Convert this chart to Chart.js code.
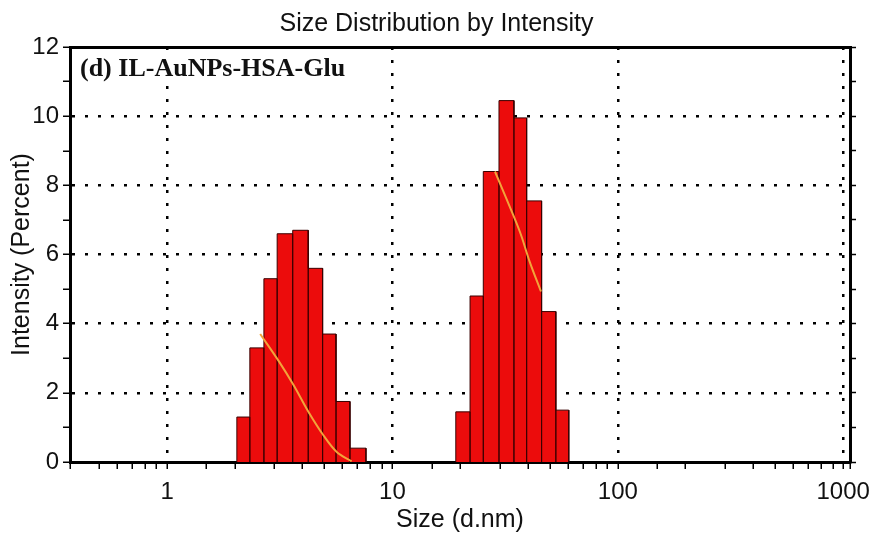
<!DOCTYPE html>
<html><head><meta charset="utf-8">
<script src="https://cdn.jsdelivr.net/npm/chart.js@4/dist/chart.umd.min.js"></script>
<style>html,body{margin:0;padding:0;background:#fff}#wrap{width:873px;height:536px}</style>
</head><body><div id="wrap"><canvas id="c" width="873" height="536"></canvas></div>
<script>
// ---- text ----
const chartTitle = 'Size Distribution by Intensity';
const sampleLabel = '(d) IL-AuNPs-HSA-Glu';
const xAxisTitle = 'Size (d.nm)';
const yAxisTitle = 'Intensity (Percent)';
const xTickLabels = [1, 10, 100, 1000];
const yTickLabels = [0, 2, 4, 6, 8, 10, 12];

// ---- histogram peak 1 (bin edges in d.nm, intensity in %) ----
const binEdgesA = [2.04, 2.33, 2.69, 3.08, 3.61, 4.23, 4.90, 5.62, 6.48, 7.63];
const intensityA = [1.3, 3.3, 5.3, 6.6, 6.7, 5.6, 3.7, 1.75, 0.4];
// ---- histogram peak 2 ----
const binEdgesB = [19.1, 22.1, 25.3, 29.7, 34.6, 39.4, 45.9, 53.1, 60.6];
const intensityB = [1.45, 4.8, 8.4, 10.45, 9.95, 7.55, 4.35, 1.5];
// ---- orange curves ----
const curveSizeA = [2.59, 3.12, 3.63, 4.23, 4.93, 5.66, 6.59];
const curveIntensityA = [3.7, 2.93, 2.24, 1.46, 0.78, 0.29, 0.02];
const curveSizeB = [28.5, 32.1, 36.8, 40.7, 45.6];
const curveIntensityB = [8.4, 7.6, 6.65, 5.78, 4.93];

const xMin = 0.371, xMax = 1072, yMin = 0, yMax = 12;

function histogramPoints(edges, vals) {
  const pts = [];
  vals.forEach((v, i) => {
    pts.push({x: edges[i], y: 0}, {x: edges[i], y: v}, {x: edges[i + 1], y: v}, {x: edges[i + 1], y: 0});
  });
  return pts;
}
const zip = (xs, ys) => xs.map((x, i) => ({x, y: ys[i]}));

Chart.defaults.font.family = '"Liberation Sans", Arial, sans-serif';
Chart.defaults.color = '#111';

const isDecade = v => xTickLabels.some(t => Math.abs(t - v) < 1e-9 * t);
const dotted = [3, 10];

const labelPlugin = {
  id: 'sampleLabel',
  afterDatasetsDraw(chart) {
    const {ctx, chartArea} = chart;
    ctx.save();
    ctx.font = 'bold 26px "Liberation Serif", "Times New Roman", serif';
    const x = chartArea.left + 10, y = chartArea.top + 29;
    const w = ctx.measureText(sampleLabel).width;
    ctx.fillStyle = '#fff';
    ctx.fillRect(x - 4, y - 22, w + 8, 29);
    ctx.fillStyle = '#111';
    ctx.textBaseline = 'alphabetic';
    ctx.textAlign = 'left';
    ctx.fillText(sampleLabel, x, y);
    ctx.restore();
  }
};

const barStyle = {
  type: 'line', fill: 'origin', backgroundColor: '#ec0c0c', borderColor: '#3a0000',
  borderWidth: 1, pointRadius: 0, tension: 0, order: 2
};
const curveStyle = {
  type: 'line', fill: false, borderColor: '#f2a33a', borderWidth: 2,
  pointRadius: 0, tension: 0.35, order: 0
};

new Chart(document.getElementById('c'), {
  type: 'line',
  data: {
    datasets: [
      Object.assign({label: 'peak 1', data: histogramPoints(binEdgesA, intensityA)}, barStyle),
      Object.assign({label: 'peak 2', data: histogramPoints(binEdgesB, intensityB)}, barStyle),
      Object.assign({label: 'curve 1', data: zip(curveSizeA, curveIntensityA)}, curveStyle),
      Object.assign({label: 'curve 2', data: zip(curveSizeB, curveIntensityB)}, curveStyle)
    ]
  },
  options: {
    responsive: false,
    animation: false,
    devicePixelRatio: 1,
    layout: {padding: 0},
    plugins: {
      legend: {display: false},
      tooltip: {enabled: false},
      title: {
        display: true, text: chartTitle, color: '#111',
        font: {size: 25, weight: 'normal'}, padding: {top: 9, bottom: 8}
      }
    },
    scales: {
      x: {
        type: 'logarithmic', position: 'bottom', min: xMin, max: xMax,
        afterFit: s => { s.height = 74; },
        border: {display: true, color: '#000', width: 3, dash: dotted},
        grid: {
          color: c => (c.tick && isDecade(c.tick.value)) ? '#000' : 'rgba(0,0,0,0)',
          lineWidth: 2.5, tickColor: '#000', tickWidth: 1.5, tickLength: 7
        },
        ticks: {
          autoSkip: false, maxRotation: 0, padding: 9, color: '#111',
          font: {size: 24},
          callback: v => isDecade(v) ? String(Math.round(v)) : ''
        },
        title: {display: true, text: xAxisTitle, color: '#111', font: {size: 25}, padding: {top: 0, bottom: 1}}
      },
      xTop: {
        type: 'logarithmic', position: 'top', min: xMin, max: xMax,
        afterFit: s => { s.height = 0; },
        border: {display: true, color: '#000', width: 3},
        grid: {drawOnChartArea: false, drawTicks: false},
        ticks: {display: false}
      },
      y: {
        type: 'linear', position: 'left', min: yMin, max: yMax,
        afterFit: s => { s.width = 70; },
        border: {display: true, color: '#000', width: 3, dash: dotted},
        grid: {
          color: c => (c.tick && c.tick.value > yMin && c.tick.value < yMax && yTickLabels.includes(c.tick.value)) ? '#000' : 'rgba(0,0,0,0)',
          lineWidth: 2.5, tickColor: '#000', tickWidth: 1.5, tickLength: 7
        },
        ticks: {
          stepSize: 1, padding: 4, color: '#111', font: {size: 24},
          callback: v => yTickLabels.includes(v) ? String(v) : ''
        },
        title: {display: true, text: yAxisTitle, color: '#111', font: {size: 25}, padding: {top: 7, bottom: 0}}
      },
      yRight: {
        type: 'linear', position: 'right', min: yMin, max: yMax,
        afterFit: s => { s.width = 23; },
        border: {display: true, color: '#000', width: 3},
        grid: {drawOnChartArea: false, tickColor: '#000', tickWidth: 1.5, tickLength: 6},
        ticks: {stepSize: 1, display: false}
      }
    }
  },
  plugins: [labelPlugin]
});
</script>
</body></html>
